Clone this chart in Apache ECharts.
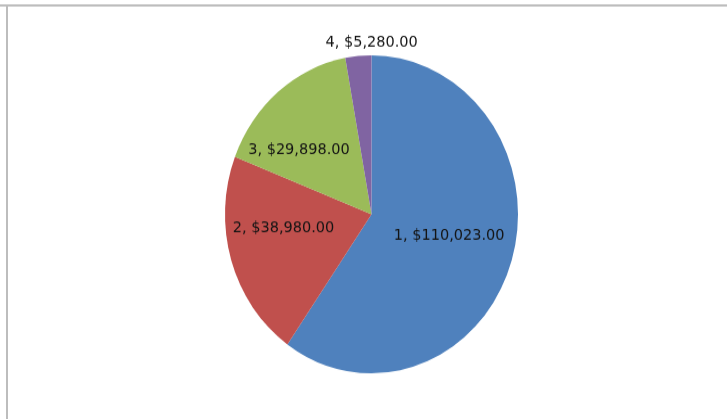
<!DOCTYPE html>
<html>
<head>
<meta charset="utf-8">
<script src="https://cdn.jsdelivr.net/npm/echarts@6/dist/echarts.min.js"></script>
<style>
html,body{margin:0;padding:0;background:#fff;overflow:hidden;}
#wrap{width:727px;height:419px;overflow:hidden;position:relative;}
#chart{width:727px;height:386px;transform:scaleY(1.085);transform-origin:0 0;}
</style>
</head>
<body>
<div id="wrap"><div id="chart"></div></div>
<script>
var categories = ['1', '2', '3', '4'];
var values = [110023, 38980, 29898, 5280];
var colors = ['#4F81BD', '#C0504D', '#9BBB59', '#8064A2'];
var labelOffsets = [[5, -3], [-15, -9], [-24, 0], [7, -82]];

function fmt(v) {
  return '$' + v.toLocaleString('en-US', {minimumFractionDigits: 2, maximumFractionDigits: 2});
}

var data = categories.map(function (c, i) {
  return {
    name: c,
    value: values[i],
    itemStyle: {color: colors[i]},
    label: {offset: labelOffsets[i]}
  };
});

var chart = echarts.init(document.getElementById('chart'));
chart.setOption({
  animation: false,
  backgroundColor: '#fff',
  graphic: [
    {type: 'rect', shape: {x: 0, y: 4, width: 727, height: 2}, style: {fill: '#bdbdbd'}, silent: true},
    {type: 'rect', shape: {x: 6, y: 4, width: 2, height: 390}, style: {fill: '#bdbdbd'}, silent: true}
  ],
  series: [{
    type: 'pie',
    center: [371.5, 197.5],
    radius: [0, 146.5],
    startAngle: 90,
    clockwise: true,
    avoidLabelOverlap: false,
    label: {
      show: true,
      position: 'inside',
      formatter: function (p) { return p.name + ', ' + fmt(p.value); },
      color: '#141414',
      fontFamily: 'DejaVu Sans',
      fontSize: 14.5
    },
    labelLine: {show: false},
    itemStyle: {borderWidth: 0},
    emphasis: {disabled: true},
    data: data
  }]
});
</script>
</body>
</html>
